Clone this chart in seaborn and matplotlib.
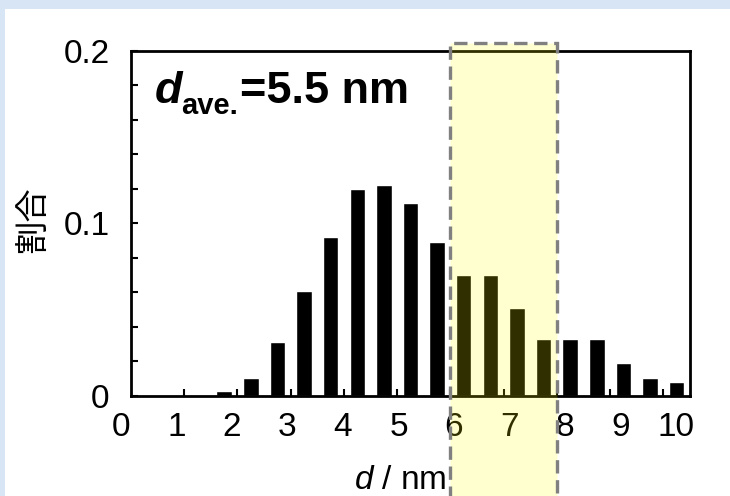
import numpy as np
import pandas as pd
import matplotlib
matplotlib.use("Agg")
import matplotlib.pyplot as plt
import seaborn as sns
from matplotlib.patches import Rectangle
from matplotlib.ticker import MultipleLocator
from matplotlib.transforms import blended_transform_factory

# ---------------- data ----------------
bin_centers = [1.75, 2.25, 2.75, 3.25, 3.75, 4.25, 4.75, 5.25, 5.75,
               6.25, 6.75, 7.25, 7.75, 8.25, 8.75, 9.25, 9.75, 10.25]
fractions = [0.0025, 0.010, 0.031, 0.061, 0.092, 0.120, 0.122, 0.112, 0.089,
             0.070, 0.070, 0.051, 0.033, 0.033, 0.033, 0.019, 0.010, 0.008]
x_tick_labels = ["0", "1", "2", "3", "4", "5", "6", "7", "8", "9", "10"]
y_tick_values = [0, 0.1, 0.2]
y_tick_labels = ["0", "0.1", "0.2"]
highlight_range = (6, 8)
ave_parts = ("d", "ave.", "=5.5 nm")
x_label = r"$\mathit{d}$ / nm"
y_label = "割合"

df = pd.DataFrame({"d": bin_centers, "frac": fractions})

# ---------------- style ----------------
sns.set_style("ticks")
plt.rcParams["font.family"] = ["Liberation Sans", "Noto Sans CJK JP", "DejaVu Sans"]
plt.rcParams["mathtext.fontset"] = "custom"
plt.rcParams["mathtext.rm"] = "Liberation Sans"
plt.rcParams["mathtext.it"] = "Liberation Sans:italic"
plt.rcParams["mathtext.bf"] = "Liberation Sans:bold"
for k in ["text.color", "axes.labelcolor", "xtick.color", "ytick.color",
          "axes.edgecolor"]:
    plt.rcParams[k] = "black"

W, H = 730, 496
fig = plt.figure(figsize=(W / 100, H / 100), dpi=100)
fig.patch.set_facecolor("#d7e5f4")
fig.add_artist(Rectangle((5 / W, 0), 1, (H - 9) / H, transform=fig.transFigure,
                         facecolor="white", edgecolor="none", zorder=-5))

ax = fig.add_axes([131 / W, (H - 395.7) / H, (690 - 131) / W, (395.7 - 51) / H])
ax.set_facecolor("white")

sns.barplot(data=df, x="d", y="frac", native_scale=True, width=0.58,
            color="black", saturation=1, errorbar=None, ax=ax, zorder=3)

ax.set_xlim(0, 10.5)
ax.set_ylim(0, 0.2)

for s in ax.spines.values():
    s.set_linewidth(2)
    s.set_color("black")
    s.set_zorder(4)

# x ticks: marks at integers, labels drawn as text below
ax.set_xticks(range(1, 11))
ax.set_xticklabels([])
ax.tick_params(axis="x", which="major", direction="in", length=5, width=1.5,
               color="black", bottom=True, top=False)
label_pos = np.arange(len(x_tick_labels)) * 1.043 - 0.19
for pos, lab in zip(label_pos, x_tick_labels):
    ax.annotate(lab, xy=(pos, 0), xycoords=("data", "axes fraction"),
                xytext=(0, -11.5), textcoords="offset points",
                ha="center", va="top", fontsize=24, color="black",
                annotation_clip=False)

# y ticks
ax.set_yticks(y_tick_values)
ax.set_yticklabels(y_tick_labels)
ax.yaxis.set_minor_locator(MultipleLocator(0.02))
ax.tick_params(axis="y", which="both", direction="in", length=5, width=1.5,
               color="black", labelcolor="black", left=True, right=False,
               labelsize=24, pad=15.5)

ax.set_xlabel(x_label, fontsize=24, color="black")
ax.xaxis.set_label_coords((400 - 131) / 559, -0.2)
ax.xaxis.label.set_va("top")
ax.set_ylabel(y_label, fontsize=24, color="black",
              family=["Noto Sans CJK JP", "DejaVu Sans"])
ax.yaxis.set_label_coords(-0.145, 0.51)

# average-size annotation
fig.canvas.draw()
r = fig.canvas.get_renderer()
base_y = (H - 102.7) / H
t1 = fig.text(155 / W, base_y, ave_parts[0], fontsize=32.5, fontweight="bold",
              fontstyle="italic", va="baseline", ha="left", color="black")
bb1 = t1.get_window_extent(r)
t2 = fig.text((bb1.x1 - 1) / W, (H - 114.5) / H, ave_parts[1], fontsize=21,
              fontweight="bold", va="baseline", ha="left", color="black")
bb2 = t2.get_window_extent(r)
fig.text((bb2.x1 + 1) / W, base_y, ave_parts[2], fontsize=32.5, fontweight="bold",
         va="baseline", ha="left", color="black")

# highlight band
trans = blended_transform_factory(ax.transData, fig.transFigure)
fig.add_artist(Rectangle((highlight_range[0], -0.1),
                         highlight_range[1] - highlight_range[0],
                         (H - 43) / H + 0.1, transform=trans,
                         facecolor=(1, 1, 0, 0.19), edgecolor="#808080",
                         linewidth=2.4, linestyle=(0, (4, 2)), zorder=20,
                         clip_on=False))

fig.savefig("out.png", dpi=100, facecolor=fig.get_facecolor())
